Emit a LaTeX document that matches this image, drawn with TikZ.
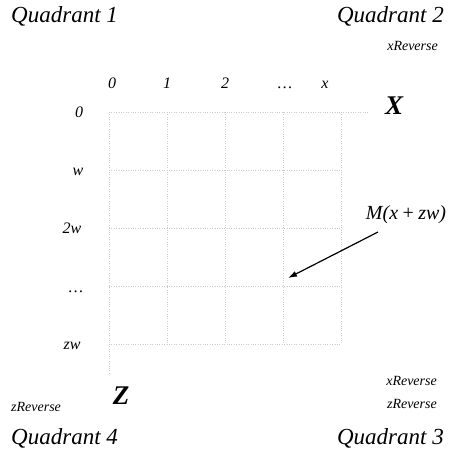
\documentclass[tikz,border=0pt]{standalone}
\usepackage{fontspec}
\setmainfont{Liberation Serif}
\usetikzlibrary{arrows.meta}
\begin{document}
\begin{tikzpicture}[x=1pt,y=-1pt,
  quad/.style={font=\fontsize{23}{26}\selectfont\itshape,inner sep=0pt},
  rev/.style={font=\fontsize{14}{16}\selectfont\itshape,inner sep=0pt},
  idx/.style={font=\fontsize{16}{18}\selectfont\itshape,inner sep=0pt,anchor=base},
  big/.style={font=\fontsize{27}{29}\selectfont\bfseries\itshape,inner sep=0pt},
  gridline/.style={gray!40,dotted,thin}]
  \useasboundingbox (0,0) rectangle (460,452);

  % grid of memory cells
  \foreach \i in {0,...,4} {
    \draw[gridline] (109+58*\i,112) -- (109+58*\i,344);
    \draw[gridline] (109,112+58*\i) -- (341,112+58*\i);
  }
  \draw[gridline] (341,112) -- (368,112);
  \draw[gridline] (109,344) -- (109,375);

  % quadrants
  \node[quad,anchor=west] (q1) at (11,16) {Quadrant 1};
  \node[quad,anchor=east] (q2) at (444,16) {Quadrant 2};
  \node[quad,anchor=west] (q4) at (11,438) {Quadrant 4};
  \node[quad,anchor=east] (q3) at (444,438) {Quadrant 3};

  \node[rev,anchor=east] (xr2) at (438,46) {xReverse};
  \node[rev,anchor=east] (xr3) at (437,381) {xReverse};
  \node[rev,anchor=east] (zr3) at (437,404) {zReverse};
  \node[rev,anchor=west] (zr4) at (11,407) {zReverse};

  % indices
  \node[idx] (c0) at (112,88) {0};
  \node[idx] (c1) at (167,88) {1};
  \node[idx] (c2) at (225,88) {2};
  \node[idx] (c3) at (285,88) {\dots};
  \node[idx] (c4) at (325,88) {x};
  \node[idx] (r0) at (79,117) {0};
  \node[idx] (r1) at (78,175) {w};
  \node[idx] (r2) at (72,233) {2w};
  \node[idx] (r3) at (76,292) {\dots};
  \node[idx] (r4) at (72,349) {zw};

  \node[big] (X) at (394,106) {X};
  \node[big] (Z) at (121,396) {Z};

  % addressed cell
  \node[font=\fontsize{20}{22}\selectfont\itshape,inner sep=0pt] (mlbl) at (406,215) {M(x\,+\,zw)};
  \coordinate (cell) at (288,278);
  \coordinate (tail) at (378,232);
  \draw[line width=1.2pt,-{Latex[length=9pt,width=6pt]}] (tail) -- (cell);
\end{tikzpicture}
\end{document}
